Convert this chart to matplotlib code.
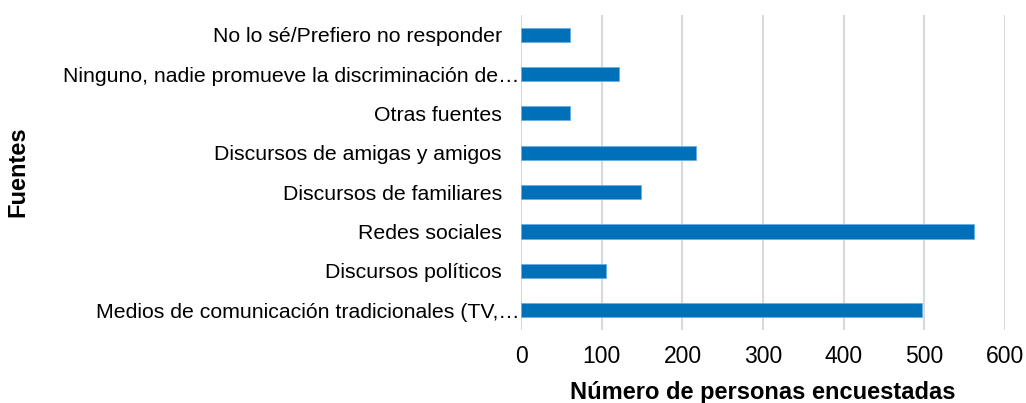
import matplotlib.pyplot as plt
from matplotlib.transforms import ScaledTranslation

plt.rcParams['font.family'] = ['Liberation Sans', 'DejaVu Sans']

# datos (de abajo hacia arriba)
fuentes = ['Medios de comunicación tradicionales (TV,…',
           'Discursos políticos',
           'Redes sociales',
           'Discursos de familiares',
           'Discursos de amigas y amigos',
           'Otras fuentes',
           'Ninguno, nadie promueve la discriminación de…',
           'No lo sé/Prefiero no responder']
personas = [497, 105, 561, 148, 217, 61, 121, 61]
xticks = [0, 100, 200, 300, 400, 500, 600]

fig = plt.figure(figsize=(10.26, 4.03), dpi=100)
ax = fig.add_axes([0.508, 0.181, 0.4715, 0.782])

ax.barh(range(len(fuentes)), personas, height=0.36, color='#0070B8',
        edgecolor='#6aaee0', linewidth=0.6, zorder=3)
ax.set_yticks(range(len(fuentes)))
ax.set_yticklabels(fuentes, fontsize=15.3)
ax.set_ylim(-0.5, len(fuentes) - 0.5)
ax.set_xlim(0, 600)
ax.set_xticks(xticks)
ax.tick_params(axis='x', labelsize=16.5, length=0, pad=11)
ax.tick_params(axis='y', length=0, pad=14)
ax.grid(axis='x', color='#d9d9d9', linewidth=1.5, zorder=0)
for s in ax.spines.values():
    s.set_visible(False)

# las etiquetas recortadas se desbordan hasta el eje, como en Excel
for lbl in ax.get_yticklabels():
    if lbl.get_text().endswith('…'):
        lbl.set_transform(lbl.get_transform() + ScaledTranslation(18 / 100, 0, fig.dpi_scale_trans))

ax.set_xlabel('Número de personas encuestadas', fontsize=17, fontweight='bold', labelpad=9)
fig.text(0.0175, 0.575, 'Fuentes', rotation=90, fontsize=17, fontweight='bold',
         va='center', ha='center')

plt.savefig('out.png', dpi=100)
